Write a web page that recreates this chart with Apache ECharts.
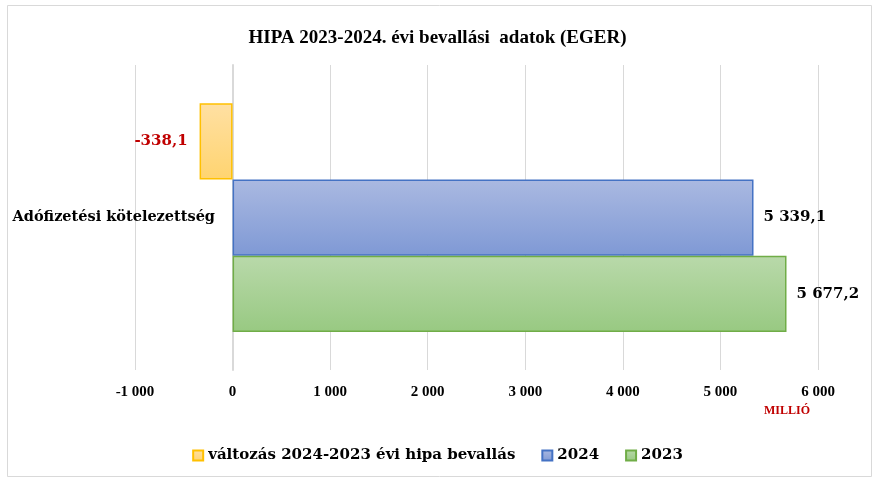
<!DOCTYPE html>
<html>
<head>
<meta charset="utf-8">
<script src="https://cdn.jsdelivr.net/npm/echarts@6/dist/echarts.min.js"></script>
<style>
  html, body { margin: 0; padding: 0; background: #fff; }
  #chart { width: 875px; height: 477px; }
</style>
</head>
<body>
<div id="chart"></div>
<script>
(function () {
    const categories = ['Adófizetési kötelezettség'];
    const seriesNames = ['változás 2024-2023 évi hipa bevallás', '2024', '2023'];
    const valtozas = [-338.1];
    const ev2024 = [5339.1];
    const ev2023 = [5677.2];
    const axisMin = -1000;
    const axisMax = 6000;
    const axisStep = 1000;

    const font = '"Liberation Serif", "DejaVu Serif", serif';
    const wideFont = '"DejaVu Serif", serif';

    function fmtNum(v, dec) {
        const neg = v < 0;
        const s = Math.abs(v).toFixed(dec);
        const parts = s.split('.');
        const intPart = parts[0].replace(/\B(?=(\d{3})+(?!\d))/g, ' ');
        return (neg ? '-' : '') + intPart + (parts[1] ? ',' + parts[1] : '');
    }

    function grad(c1, c2) {
        return new echarts.graphic.LinearGradient(0, 0, 0, 1, [
            { offset: 0, color: c1 },
            { offset: 1, color: c2 }
        ]);
    }

    function valueLabel(pos, color) {
        return {
            show: true,
            position: pos,
            distance: pos === 'left' ? 12 : 10,
            fontFamily: wideFont,
            fontSize: 15,
            fontWeight: 'bold',
            color: color,
            formatter: function (p) { return fmtNum(p.value, 1); }
        };
    }

    const myChart = echarts.init(document.getElementById('chart'));

    const option = {
        backgroundColor: '#fff',
        animation: false,
        textStyle: { fontFamily: font },
        title: {
            text: 'HIPA 2023-2024. évi bevallási  adatok (EGER)',
            left: 'center',
            top: 24,
            textStyle: { fontFamily: font, fontSize: 19, fontWeight: 'bold', color: '#000' }
        },
        legend: {
            data: seriesNames,
            bottom: 9,
            left: 'center',
            itemWidth: 10,
            itemHeight: 10,
            itemGap: 26,
            icon: 'rect',
            textStyle: { fontFamily: wideFont, fontSize: 15, fontWeight: 'bold', color: '#000' }
        },
        grid: {
            left: 135,
            right: 57,
            top: 65,
            bottom: 107,
            containLabel: false,
            outerBoundsMode: 'none'
        },
        xAxis: {
            type: 'value',
            min: axisMin,
            max: axisMax,
            interval: axisStep,
            axisLine: { show: false },
            axisTick: { show: false },
            splitLine: { lineStyle: { color: '#d9d9d9', width: 1 } },
            axisLabel: {
                margin: 15,
                fontFamily: font,
                fontSize: 15,
                fontWeight: 'bold',
                color: '#000',
                formatter: function (v) { return fmtNum(v, 0); }
            }
        },
        yAxis: {
            type: 'category',
            data: categories,
            axisLine: { onZero: true, lineStyle: { color: '#d9d9d9', width: 2 } },
            axisTick: { show: false },
            axisLabel: {
                margin: -80,
                fontFamily: wideFont,
                fontSize: 14.5,
                fontWeight: 'bold',
                color: '#000'
            }
        },
        series: [
            {
                name: seriesNames[0],
                type: 'bar',
                data: valtozas,
                barGap: '0%',
                barCategoryGap: '25%',
                itemStyle: {
                    color: grad('#ffe0a3', '#ffd470'),
                    borderColor: '#ffc000',
                    borderWidth: 1.5
                },
                label: valueLabel('left', '#c00000')
            },
            {
                name: seriesNames[1],
                type: 'bar',
                data: ev2024,
                barGap: '0%',
                barCategoryGap: '25%',
                itemStyle: {
                    color: grad('#aab9e1', '#7f99d5'),
                    borderColor: '#4472c4',
                    borderWidth: 1.5
                },
                label: valueLabel('right', '#000')
            },
            {
                name: seriesNames[2],
                type: 'bar',
                data: ev2023,
                barGap: '0%',
                barCategoryGap: '25%',
                itemStyle: {
                    color: grad('#b9d9aa', '#98c982'),
                    borderColor: '#70ad47',
                    borderWidth: 1.5
                },
                label: valueLabel('right', '#000')
            }
        ],
        graphic: [
            {
                type: 'rect',
                left: 5,
                top: 3,
                shape: { width: 864, height: 471 },
                style: { fill: 'none', stroke: '#d9d9d9', lineWidth: 1 },
                silent: true
            },
            {
                type: 'text',
                left: 764,
                top: 405,
                style: {
                    text: 'MILLIÓ',
                    fill: '#c00000',
                    font: 'bold 12px ' + font
                }
            }
        ]
    };

    myChart.setOption(option);
}());
</script>
</body>
</html>
